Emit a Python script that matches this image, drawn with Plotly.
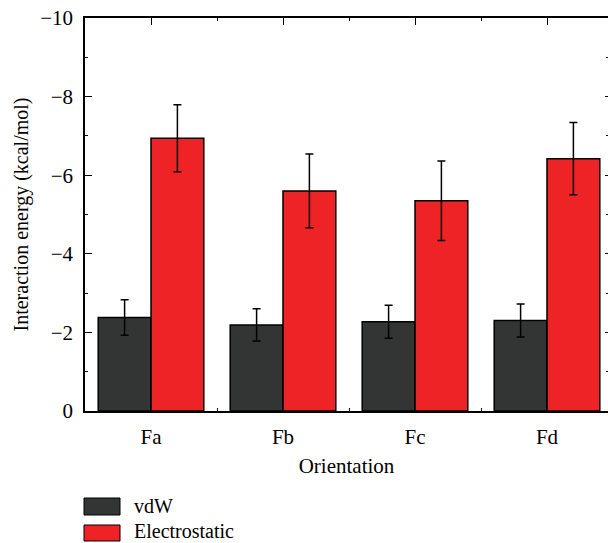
import plotly.graph_objects as go

categories = ["Fa", "Fb", "Fc", "Fd"]
vdw = [-2.38, -2.19, -2.27, -2.30]
vdw_err = [0.45, 0.41, 0.42, 0.42]
elec = [-6.94, -5.60, -5.35, -6.42]
elec_err = [0.85, 0.94, 1.01, 0.92]
series_names = ["vdW", "Electrostatic"]
y_ticks = [-10, -8, -6, -4, -2, 0]
y_ticktext = ["\u221210", "\u22128", "\u22126", "\u22124", "\u22122", "0"]

W, H = 608, 543
L, T, B, R = 85, 18, 132, 0
PW, PH = W - L - R, H - T - B
x_pos = list(range(len(categories)))
x_range = [-0.5, -0.5 + PW / 132.0]
y_range = [0, -10]
FONT = "Liberation Serif"
dark = "#333535"
red = "#ee2326"

def pxx(p):
    return (p - L) / PW

def pxy(p):
    return (H - B - p) / PH

fig = go.Figure()
fig.add_trace(go.Bar(
    x=x_pos, y=vdw, name=series_names[0], marker=dict(color=dark, line=dict(color="black", width=1.5)),
    error_y=dict(type="data", array=vdw_err, color="black", thickness=1.5, width=4), showlegend=False))
fig.add_trace(go.Bar(
    x=x_pos, y=elec, name=series_names[1], marker=dict(color=red, line=dict(color="black", width=1.5)),
    error_y=dict(type="data", array=elec_err, color="black", thickness=1.5, width=4), showlegend=False))
fig.add_trace(go.Scatter(x=[None], y=[None], xaxis="x2", yaxis="y2", showlegend=False))

axis_common = dict(showgrid=False, zeroline=False)
fig.update_layout(
    width=W, height=H, margin=dict(l=L, r=R, t=T, b=B),
    paper_bgcolor="white", plot_bgcolor="white",
    barmode="group", bargap=0.2, bargroupgap=0,
    font=dict(family=FONT, size=18, color="black"),
    xaxis=dict(**axis_common, range=x_range, tickvals=x_pos, ticktext=categories,
               ticks="inside", ticklen=0, showline=True, linecolor="black", linewidth=1.5,
               minor=dict(tickvals=[0.5, 1.5, 2.5], ticks="inside", ticklen=3, tickcolor="black", tickwidth=1),
               title=dict(text="Orientation", standoff=10, font=dict(size=21, family=FONT)),
               ticklabelstandoff=6,
               tickfont=dict(size=21, family=FONT)),
    yaxis=dict(**axis_common, range=y_range, tickvals=y_ticks, ticktext=y_ticktext,
               ticks="inside", ticklen=7, tickwidth=1.2, tickcolor="black",
               showline=True, linecolor="black", linewidth=1.5,
               minor=dict(tickvals=[-9, -7, -5, -3, -1], ticks="inside", ticklen=3.5, tickcolor="black", tickwidth=1),
               title=dict(text="Interaction energy (kcal/mol)", standoff=6, font=dict(size=20, family=FONT)),
               ticklabelstandoff=6,
               tickfont=dict(size=21, family=FONT)),
    xaxis2=dict(**axis_common, overlaying="x", side="top", anchor="y", range=x_range,
                tickvals=x_pos, ticks="inside", ticklen=7, tickwidth=1.2, tickcolor="black",
                showticklabels=False, showline=True, linecolor="black", linewidth=1.5,
                minor=dict(tickvals=[0.5, 1.5, 2.5], ticks="inside", ticklen=3, tickcolor="black", tickwidth=1)),
    yaxis2=dict(**axis_common, overlaying="y", side="right", anchor="x", range=y_range,
                tickvals=y_ticks, ticks="inside", ticklen=3, tickwidth=1.2, tickcolor="black",
                showticklabels=False, showline=False,
                minor=dict(tickvals=[-9, -7, -5, -3, -1], ticks="inside", ticklen=2, tickcolor="black", tickwidth=1)),
)

legend_rows = [(498, 515, dark), (525, 541, red)]
label_centers = [506, 531]
for (y0, y1, col), name, yc in zip(legend_rows, series_names, label_centers):
    fig.add_shape(type="rect", xref="paper", yref="paper",
                  x0=pxx(84), x1=pxx(120), y0=pxy(y1), y1=pxy(y0),
                  fillcolor=col, line=dict(color="black", width=1))
    fig.add_annotation(xref="paper", yref="paper", x=pxx(132), y=pxy(yc),
                       text=name, showarrow=False, xanchor="left", yanchor="middle",
                       font=dict(family=FONT, size=20, color="black"))

fig.write_html("out.html")
